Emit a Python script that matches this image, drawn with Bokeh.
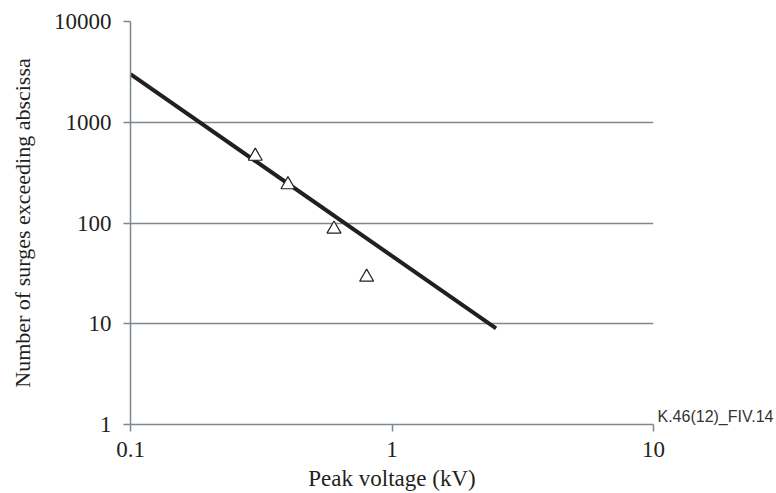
from bokeh.plotting import figure
from bokeh.models import FixedTicker, LogAxis, ColumnDataSource
from bokeh.embed import file_html
from bokeh.resources import INLINE

# Data
fit_x = [0.1, 2.5]          # kV
fit_y = [3000, 9]           # surges exceeding
meas_x = [0.3, 0.4, 0.6, 0.8]
meas_y = [460, 240, 87, 29]
x_ticks = [0.1, 1, 10]
x_tick_labels = ["0.1", "1", "10"]
y_ticks = [1, 10, 100, 1000, 10000]
y_tick_labels = ["1", "10", "100", "1000", "10000"]
figure_id = "K.46(12)_FIV.14"

SERIF = "Liberation Serif"
GRID = "#7d8891"
INK = "#231f20"

p = figure(width=776, height=493, x_axis_type="log", y_axis_type="log",
           x_range=(0.1, 10), y_range=(1, 10000),
           output_backend="svg", toolbar_location=None,
           min_border_left=130, min_border_right=122,
           min_border_top=21, min_border_bottom=67)
p.outline_line_color = None
p.background_fill_color = "white"

p.xaxis.ticker = FixedTicker(ticks=x_ticks)
p.yaxis.ticker = FixedTicker(ticks=y_ticks)
p.xaxis.major_label_overrides = {t: l for t, l in zip(x_ticks, x_tick_labels)}
p.yaxis.major_label_overrides = {t: l for t, l in zip(y_ticks, y_tick_labels)}

for ax in (p.xaxis, p.yaxis):
    ax.axis_line_color = GRID
    ax.axis_line_width = 1.5
    ax.major_tick_line_color = GRID
    ax.major_tick_line_width = 1.5
    ax.major_tick_out = 7
    ax.major_tick_in = 0
    ax.minor_tick_line_color = None
    ax.major_label_text_font = SERIF
    ax.major_label_text_font_size = "23px"
    ax.major_label_text_color = INK
    ax.axis_label_text_font = SERIF
    ax.axis_label_text_font_style = "normal"
    ax.axis_label_text_color = INK

p.xaxis.axis_label_text_font_size = "23px"
p.yaxis.axis_label_text_font_size = "22px"
p.xaxis.axis_label = "Peak voltage (kV)"
p.yaxis.axis_label = "Number of surges exceeding abscissa"
p.xaxis.major_label_standoff = 10
p.xaxis.axis_label_standoff = 6
p.yaxis.major_label_standoff = 12
p.yaxis.axis_label_standoff = 16

p.xgrid.grid_line_color = None
p.ygrid.grid_line_color = GRID
p.ygrid.grid_line_width = 1.5

p.line(fit_x, fit_y, line_color=INK, line_width=4)
src = ColumnDataSource(dict(x=meas_x, y=meas_y))
p.scatter("x", "y", source=src, marker="triangle", size=14,
          fill_color="white", line_color=INK, line_width=1.2)

# Figure identifier, placed just right of the x-axis end via a bare right axis
WM_POS = 1.2  # a few pixels above the bottom of the frame
wm = LogAxis(ticker=FixedTicker(ticks=[WM_POS]),
             major_label_overrides={WM_POS: figure_id},
             axis_line_color=None, major_tick_line_color=None,
             minor_tick_line_color=None, major_tick_out=0, major_tick_in=0,
             major_label_standoff=4,
             major_label_text_font="Liberation Sans",
             major_label_text_font_size="16px",
             major_label_text_color="#333333")
p.add_layout(wm, "right")

open("out.html", "w").write(file_html(p, INLINE))
